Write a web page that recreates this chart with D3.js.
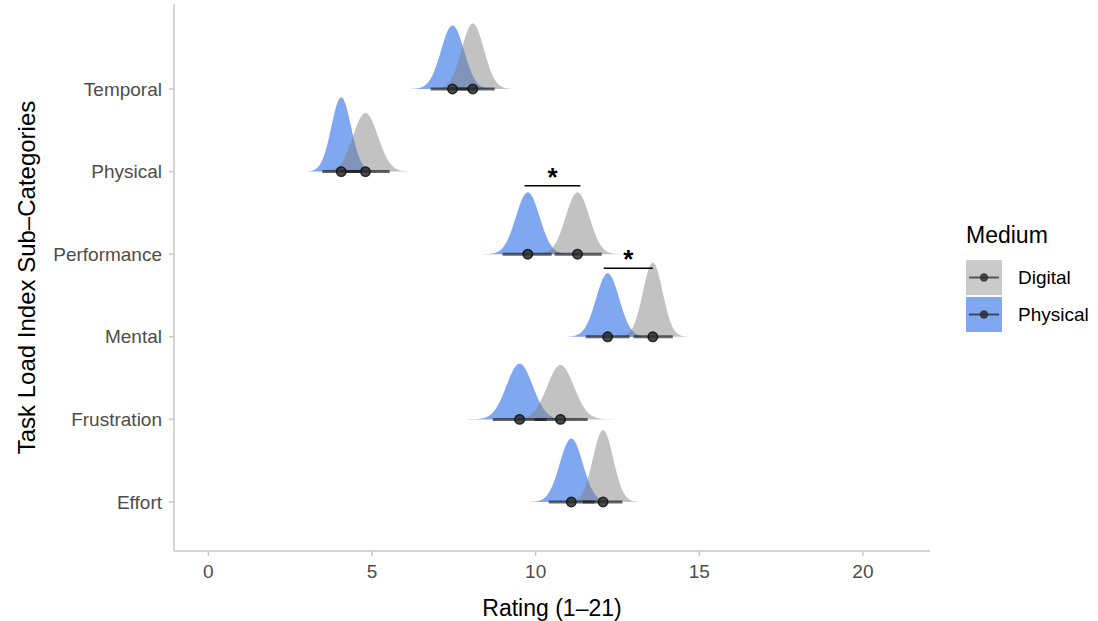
<!DOCTYPE html>
<html>
<head>
<meta charset="utf-8">
<script src="https://cdn.jsdelivr.net/npm/d3@7"></script>
<style>
  body { margin: 0; background: #fff; }
  text { font-family: "Liberation Sans", Arial, Helvetica, sans-serif; }
</style>
</head>
<body>
<script>
// categories, top to bottom
const categories = ['Temporal', 'Physical', 'Performance', 'Mental', 'Frustration', 'Effort'];

// posterior medians (rating units)
const digitalMedian  = [8.08, 4.80, 11.28, 13.58, 10.76, 12.06];
const physicalMedian = [7.46, 4.06, 9.76, 12.20, 9.51, 11.09];

// spread of each density
const digitalSd  = [0.34, 0.38, 0.36, 0.30, 0.41, 0.31];
const physicalSd = [0.35, 0.30, 0.36, 0.35, 0.40, 0.35];

// interval ends
const digitalLo  = [7.40, 4.05, 10.58, 12.99, 9.97, 11.44];
const digitalHi  = [8.75, 5.54, 12.02, 14.19, 11.59, 12.65];
const physicalLo = [6.79, 3.48, 8.99, 11.53, 8.69, 10.40];
const physicalHi = [8.14, 4.64, 10.49, 12.87, 10.34, 11.80];

// significance brackets
const sigCats = ['Performance', 'Mental'];
const sigFrom = [9.66, 12.08];
const sigTo   = [11.37, 13.58];

const xTicks = [0, 5, 10, 15, 20];

const W = 1098, H = 621;
const margin = {top: 4, right: 168, bottom: 70, left: 174};

const svg = d3.select('body').append('svg')
  .attr('width', W)
  .attr('height', H);

const x = d3.scaleLinear()
  .domain([-1.05, 22.05])
  .range([margin.left, W - margin.right]);

const y = d3.scalePoint()
  .domain(categories)
  .range([89, 502]);

const step = y.step();
const minSd = d3.min(digitalSd.concat(physicalSd));
const peak = sd => 1 / (sd * Math.sqrt(2 * Math.PI));
const maxPeak = peak(minSd);

function densityPath(cat, mu, sd) {
  const pts = d3.range(-4, 4.001, 0.1).map(z => {
    const v = mu + z * sd;
    const dens = Math.exp(-0.5 * z * z) / (sd * Math.sqrt(2 * Math.PI));
    return [v, dens / maxPeak * 0.9 * step];
  });
  const area = d3.area()
    .x(d => x(d[0]))
    .y0(y(cat))
    .y1(d => y(cat) - d[1])
    .curve(d3.curveBasis);
  return area(pts);
}

const rows = categories.map((c, i) => ({
  cat: c,
  groups: [
    {name: 'Physical', mu: physicalMedian[i], sd: physicalSd[i], lo: physicalLo[i], hi: physicalHi[i]},
    {name: 'Digital', mu: digitalMedian[i], sd: digitalSd[i], lo: digitalLo[i], hi: digitalHi[i]}
  ]
}));

const fills = {Physical: 'rgba(100,149,237,0.82)', Digital: 'rgba(128,128,128,0.48)'};

// axes lines
const axisColor = '#c4c4c4';
svg.append('line')
  .attr('x1', margin.left).attr('x2', margin.left)
  .attr('y1', margin.top).attr('y2', H - margin.bottom)
  .attr('stroke', axisColor).attr('stroke-width', 1.4);
svg.append('line')
  .attr('x1', margin.left).attr('x2', W - margin.right)
  .attr('y1', H - margin.bottom).attr('y2', H - margin.bottom)
  .attr('stroke', axisColor).attr('stroke-width', 1.4);

// x ticks
const xg = svg.append('g');
xTicks.forEach(t => {
  xg.append('line')
    .attr('x1', x(t)).attr('x2', x(t))
    .attr('y1', H - margin.bottom).attr('y2', H - margin.bottom + 5)
    .attr('stroke', axisColor).attr('stroke-width', 1.4);
  xg.append('text')
    .attr('x', x(t)).attr('y', H - margin.bottom + 20)
    .attr('dy', '0.35em')
    .attr('text-anchor', 'middle')
    .style('font-size', '19px')
    .style('fill', '#4d4d4d')
    .text(t);
});

// y ticks
const yg = svg.append('g');
categories.forEach(c => {
  yg.append('line')
    .attr('x1', margin.left - 5).attr('x2', margin.left)
    .attr('y1', y(c)).attr('y2', y(c))
    .attr('stroke', axisColor).attr('stroke-width', 1.4);
  yg.append('text')
    .attr('x', margin.left - 12).attr('y', y(c))
    .attr('dy', '0.35em')
    .attr('text-anchor', 'end')
    .style('font-size', '19px')
    .style('fill', '#4d4d4d')
    .text(c);
});

// densities: physical first, digital on top
['Physical', 'Digital'].forEach(name => {
  svg.append('g').selectAll('path')
    .data(rows)
    .enter().append('path')
    .attr('d', r => {
      const g = r.groups.find(d => d.name === name);
      return densityPath(r.cat, g.mu, g.sd);
    })
    .attr('fill', fills[name]);
});

// intervals + points
const ig = svg.append('g');
rows.forEach(r => {
  r.groups.forEach(g => {
    ig.append('line')
      .attr('x1', x(g.lo)).attr('x2', x(g.hi))
      .attr('y1', y(r.cat)).attr('y2', y(r.cat))
      .attr('stroke', 'rgba(20,20,20,0.65)')
      .attr('stroke-width', 3);
  });
});
rows.forEach(r => {
  r.groups.forEach(g => {
    ig.append('circle')
      .attr('cx', x(g.mu)).attr('cy', y(r.cat))
      .attr('r', 4.8)
      .attr('fill', 'rgba(45,45,45,0.85)')
      .attr('stroke', 'rgba(10,10,10,0.85)')
      .attr('stroke-width', 1.3);
  });
});

// significance brackets
sigCats.forEach((c, i) => {
  const yy = y(c) - 0.83 * step;
  svg.append('line')
    .attr('x1', x(sigFrom[i])).attr('x2', x(sigTo[i]))
    .attr('y1', yy).attr('y2', yy)
    .attr('stroke', '#000').attr('stroke-width', 1.5);
  svg.append('text')
    .attr('x', (x(sigFrom[i]) + x(sigTo[i])) / 2)
    .attr('y', yy)
    .attr('text-anchor', 'middle')
    .style('font-size', '26px')
    .style('font-weight', 'bold')
    .text('*');
});

// axis titles
svg.append('text')
  .attr('x', (margin.left + W - margin.right) / 2)
  .attr('y', 616)
  .attr('text-anchor', 'middle')
  .style('font-size', '23px')
  .style('fill', '#000')
  .text('Rating (1\u201321)');

svg.append('text')
  .attr('transform', `translate(35, ${(margin.top + H - margin.bottom) / 2}) rotate(-90)`)
  .attr('text-anchor', 'middle')
  .style('font-size', '24px')
  .style('fill', '#000')
  .text('Task Load Index Sub\u2013Categories');

// legend
const legend = svg.append('g').attr('transform', 'translate(966, 0)');
legend.append('text')
  .attr('x', 0).attr('y', 243)
  .style('font-size', '23px')
  .text('Medium');

const legendKeys = ['Digital', 'Physical'];
const keyFills = {Digital: 'rgba(128,128,128,0.42)', Physical: 'rgba(100,149,237,0.82)'};
legendKeys.forEach((k, i) => {
  const top = 260 + i * 37;
  legend.append('rect')
    .attr('x', 0).attr('y', top)
    .attr('width', 36).attr('height', 35)
    .attr('fill', keyFills[k]);
  legend.append('line')
    .attr('x1', 3).attr('x2', 33)
    .attr('y1', top + 17.5).attr('y2', top + 17.5)
    .attr('stroke', 'rgba(20,20,20,0.65)').attr('stroke-width', 2);
  legend.append('circle')
    .attr('cx', 18).attr('cy', top + 17.5)
    .attr('r', 4.2)
    .attr('fill', 'rgba(45,45,45,0.85)');
  legend.append('text')
    .attr('x', 52).attr('y', top + 17.5)
    .attr('dy', '0.35em')
    .style('font-size', '19px')
    .text(k);
});
</script>
</body>
</html>
